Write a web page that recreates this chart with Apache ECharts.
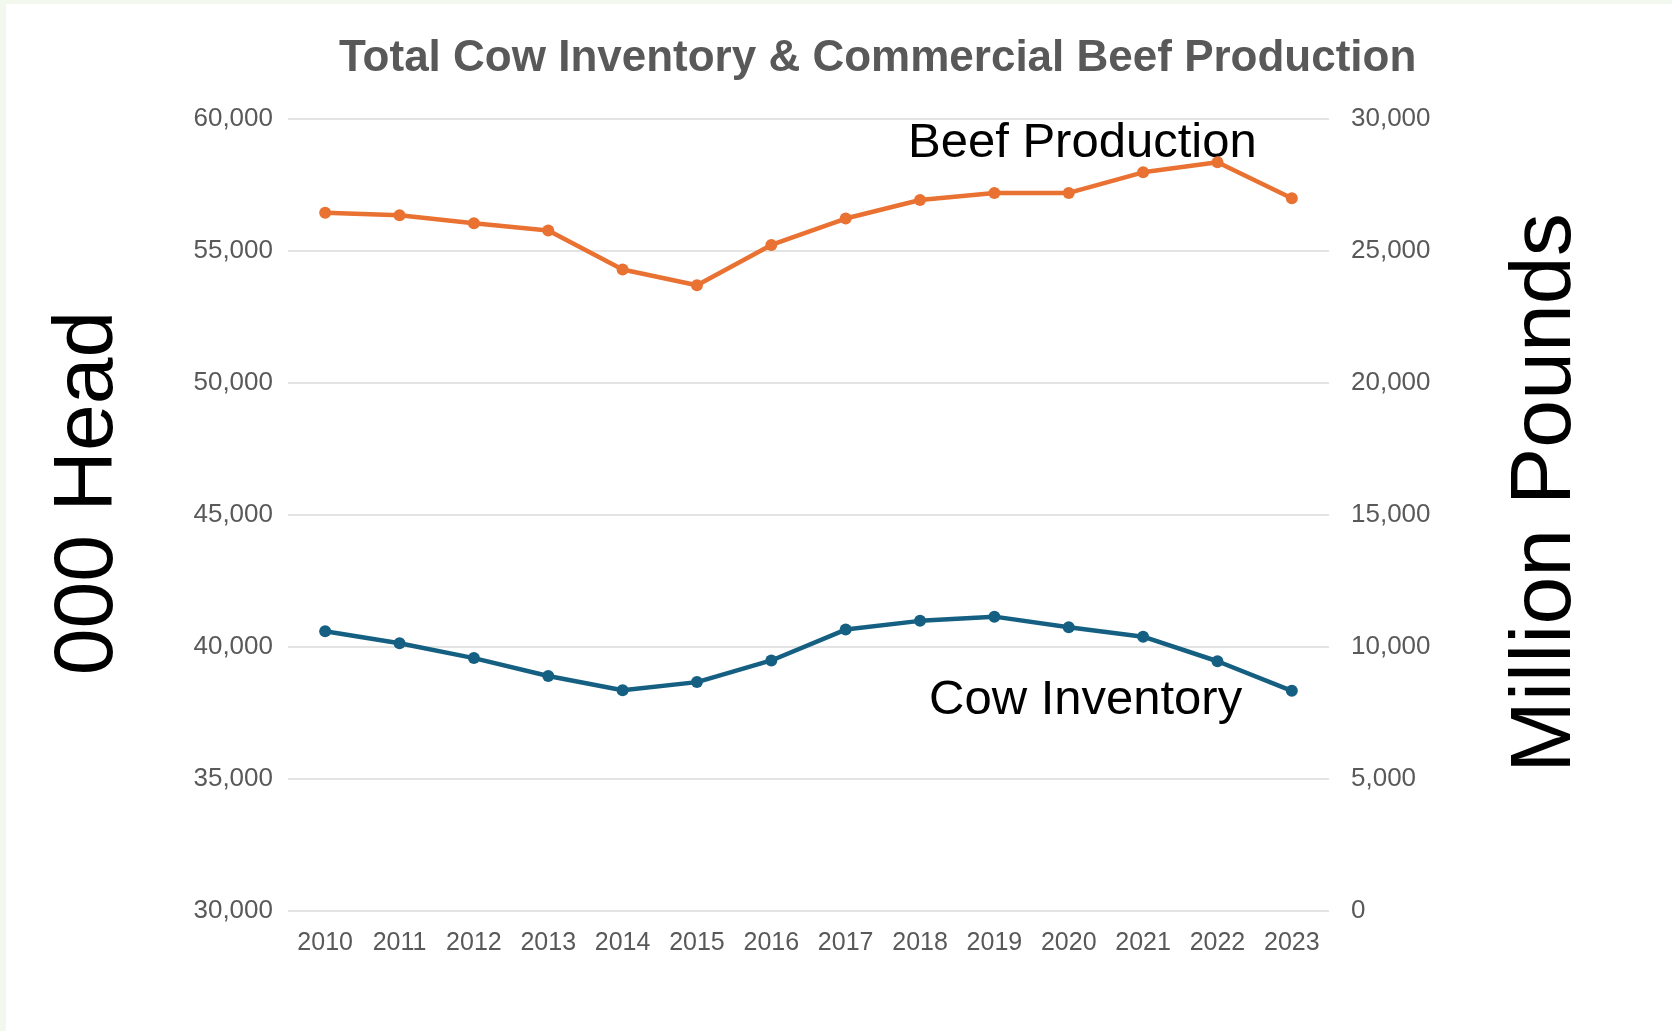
<!DOCTYPE html>
<html>
<head>
<meta charset="utf-8">
<script src="https://cdn.jsdelivr.net/npm/echarts@6/dist/echarts.min.js"></script>
<style>
html,body{margin:0;padding:0;background:#fff;}
#chart{width:1672px;height:1031px;}
</style>
</head>
<body>
<div id="chart"></div>
<script>
const years = ['2010','2011','2012','2013','2014','2015','2016','2017','2018','2019','2020','2021','2022','2023'];
const cowInventory = [40600, 40140, 39580, 38900, 38360, 38670, 39490, 40660, 40990, 41150, 40750, 40390, 39460, 38340];
const beefProduction = [26450, 26350, 26050, 25780, 24300, 23700, 25230, 26230, 26930, 27200, 27200, 27980, 28360, 27000];
const leftTicks = { min: 30000, max: 60000, interval: 5000 };
const rightTicks = { min: 0, max: 30000, interval: 5000 };
const titleText = 'Total Cow Inventory & Commercial Beef Production';
const leftName = '000 Head';
const rightName = 'Million Pounds';
const beefLabel = 'Beef Production';
const cowLabel = 'Cow Inventory';

const ORANGE = '#E97132';
const BLUE = '#156082';
const GRAY = '#595959';
const FONT = '"Liberation Sans", Arial, Helvetica, sans-serif';
const fmt = v => Number(v).toLocaleString('en-US');

const chart = echarts.init(document.getElementById('chart'), null, {renderer: 'canvas'});
chart.setOption({
  backgroundColor: '#ffffff',
  animation: false,
  title: {
    text: titleText,
    left: 339,
    top: 37,
    padding: 0,
    textStyle: { fontFamily: FONT, fontSize: 44, fontWeight: 'bold', color: GRAY }
  },
  grid: { left: 288, right: 343, top: 119, bottom: 120, containLabel: false },
  xAxis: {
    type: 'category',
    data: years,
    boundaryGap: true,
    axisLine: { show: false },
    axisTick: { show: false },
    axisLabel: { color: GRAY, fontFamily: FONT, fontSize: 25, margin: 20 }
  },
  yAxis: [
    {
      type: 'value',
      position: 'left',
      min: leftTicks.min, max: leftTicks.max, interval: leftTicks.interval,
      name: leftName,
      nameLocation: 'middle',
      nameRotate: 90,
      nameGap: 157,
      nameTextStyle: { fontFamily: FONT, fontSize: 84, color: '#000000', padding: [0, 0, 0, 44] },
      axisLine: { show: false },
      axisTick: { show: false },
      splitLine: { lineStyle: { color: '#E3E3E3', width: 2 } },
      axisLabel: { color: GRAY, fontFamily: FONT, fontSize: 26, margin: 15, formatter: fmt }
    },
    {
      type: 'value',
      position: 'right',
      min: rightTicks.min, max: rightTicks.max, interval: rightTicks.interval,
      name: rightName,
      nameLocation: 'middle',
      nameRotate: 90,
      nameGap: 174,
      nameTextStyle: { fontFamily: FONT, fontSize: 86, color: '#000000', padding: [0, 0, 0, 44] },
      axisLine: { show: false },
      axisTick: { show: false },
      splitLine: { show: false },
      axisLabel: { color: GRAY, fontFamily: FONT, fontSize: 26, margin: 22, formatter: fmt }
    }
  ],
  series: [
    {
      name: cowLabel,
      type: 'line',
      yAxisIndex: 0,
      data: cowInventory,
      symbol: 'circle',
      symbolSize: 12,
      lineStyle: { color: BLUE, width: 4.5 },
      itemStyle: { color: BLUE }
    },
    {
      name: beefLabel,
      type: 'line',
      yAxisIndex: 1,
      data: beefProduction,
      symbol: 'circle',
      symbolSize: 12,
      lineStyle: { color: ORANGE, width: 4.5 },
      itemStyle: { color: ORANGE }
    }
  ],
  graphic: [
    { type: 'rect', left: 0, top: 0, shape: { width: 6, height: 1031 }, style: { fill: '#F2F8EE' }, silent: true },
    { type: 'rect', left: 0, top: 0, shape: { width: 1672, height: 4 }, style: { fill: '#F2F8EE' }, silent: true },
    { type: 'text', left: 908, top: 119, style: { text: beefLabel, font: '49px ' + FONT, fill: '#000000' } },
    { type: 'text', left: 929, top: 676, style: { text: cowLabel, font: '49px ' + FONT, fill: '#000000' } }
  ]
});
</script>
</body>
</html>
